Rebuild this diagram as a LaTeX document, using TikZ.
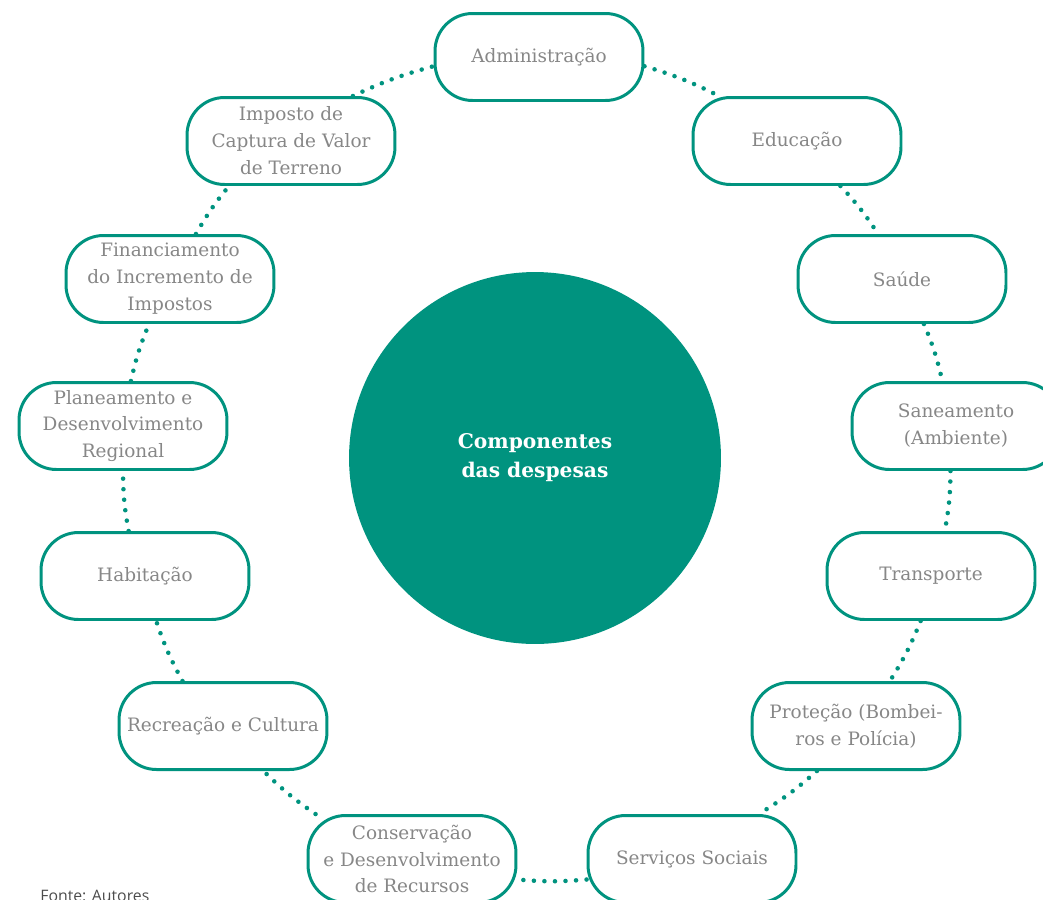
\documentclass[tikz,border=0pt]{standalone}
\usepackage{fontspec}
\setmainfont{DejaVu Serif}
\newfontfamily\notefont{Open Sans}
\usepackage{tikz}
\definecolor{ringteal}{RGB}{0,147,127}
\definecolor{labelgray}{RGB}{135,135,135}

\begin{document}
\begin{tikzpicture}[x=0.02cm, y=-0.02cm,
    item/.style={draw=ringteal, line width=1.7pt, rounded corners=0.75cm, fill=white,
      minimum width=4.16cm, minimum height=1.74cm, inner sep=1pt, align=center,
      text=labelgray, font=\fontsize{10.5}{15.3}\selectfont},
    ring/.style={draw=ringteal, line width=2.6pt, line cap=round, dash pattern=on 0pt off 6pt}]
    \useasboundingbox (0,0) rectangle (1043,899);

    % Centre
    \node[circle, fill=ringteal, minimum size=7.44cm, text=white, align=center,
      font=\bfseries\fontsize{11.5}{16.5}\selectfont] (comp) at (535,458) {Componentes\\das despesas};

    % Ring of components
    \node[item] (adm) at (539,57) {Administração};
    \node[item] (edu) at (797,141) {Educação};
    \node[item] (sau) at (902,279) {Saúde};
    \node[item] (san) at (956,426) {Saneamento\\(Ambiente)};
    \node[item] (tra) at (931,576) {Transporte};
    \node[item] (pro) at (856,726) {Proteção (Bombei-\\ros e Polícia)};
    \node[item] (ser) at (692,859) {Serviços Sociais};
    \node[item] (con) at (412,859) {Conservação\\e Desenvolvimento\\de Recursos};
    \node[item] (rec) at (223,726) {Recreação e Cultura};
    \node[item] (hab) at (145,576) {Habitação};
    \node[item] (pla) at (123,426) {Planeamento e\\Desenvolvimento\\Regional};
    \node[item] (fin) at (170,279) {Financiamento\\do Incremento de\\Impostos};
    \node[item] (imp) at (291,141) {Imposto de\\Captura de Valor\\de Terreno};

    % Dotted ring
    \draw[ring] (adm.-5) to[bend left=5] (edu.150);
    \draw[ring] (edu.-46) to[bend left=5] (sau.118);
    \draw[ring] (sau.-64) to[bend left=5] (san.107);
    \draw[ring] (san.-97) to[bend left=5] (tra.73);
    \draw[ring] (tra.-103) to[bend left=5] (pro.53);
    \draw[ring] (pro.-131) to[bend left=5] (ser.34);
    \draw[ring] (ser.-169) to[bend left=5] (con.-11);
    \draw[ring] (con.155) to[bend left=5] (rec.-48);
    \draw[ring] (rec.132) to[bend left=5] (hab.-76);
    \draw[ring] (hab.110) to[bend left=5] (pla.-90);
    \draw[ring] (pla.80) to[bend left=5] (fin.-115);
    \draw[ring] (fin.60) to[bend left=5] (imp.-144);
    \draw[ring] (imp.36) to[bend left=5] (adm.185);

    % Source
    \node[anchor=north west, inner sep=0pt, text=black!70, font=\notefont\fontsize{9}{10}\selectfont] (src) at (40,890) {Fonte: Autores};
\end{tikzpicture}
\end{document}
